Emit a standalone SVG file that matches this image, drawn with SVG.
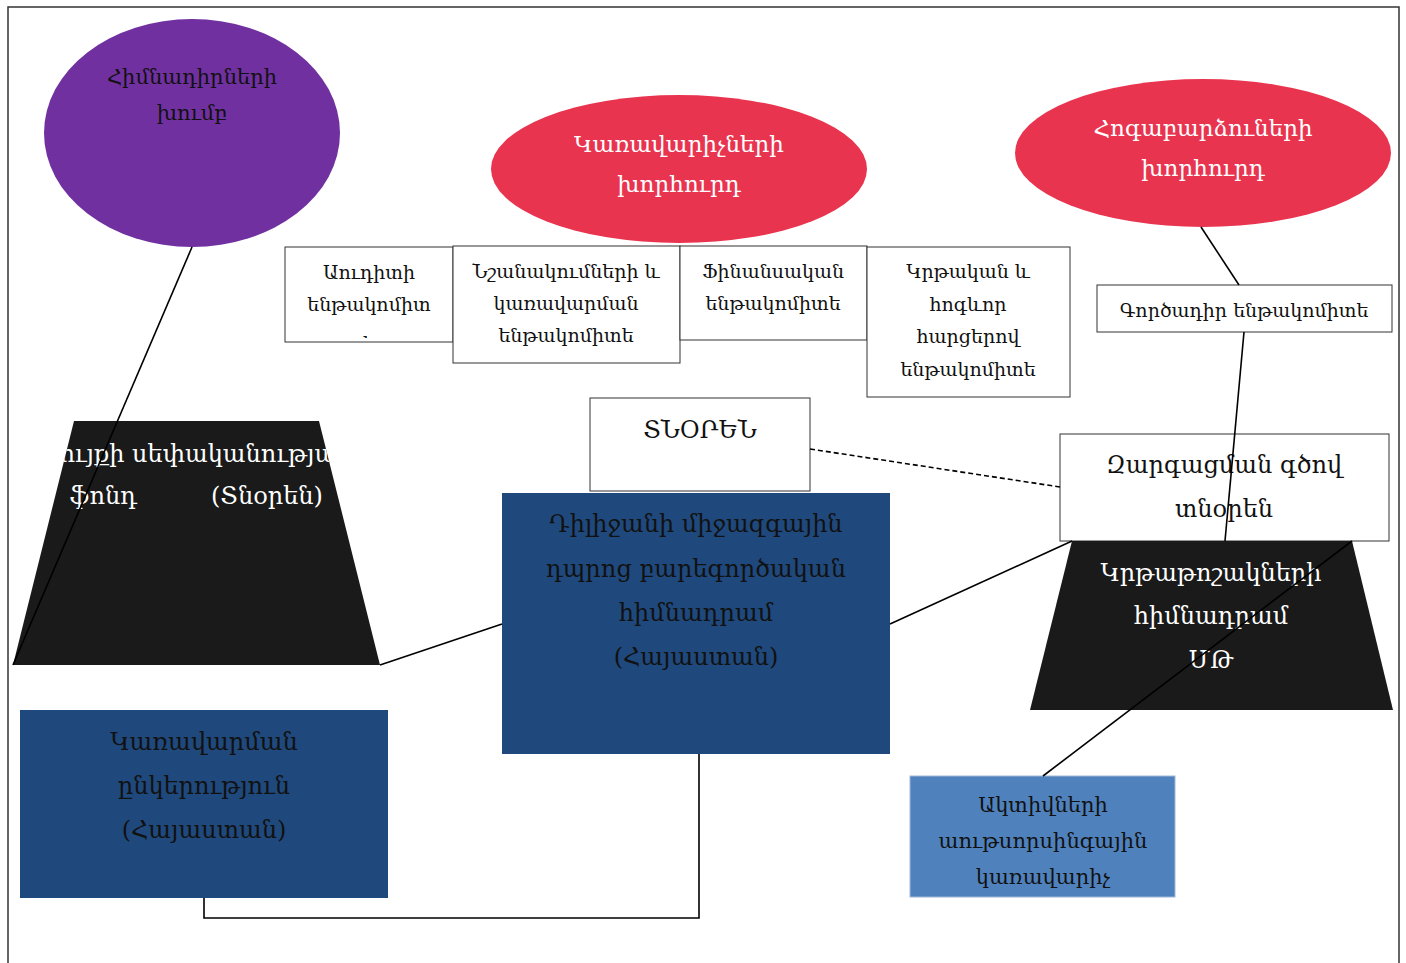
<svg xmlns="http://www.w3.org/2000/svg" width="1406" height="963" viewBox="0 0 1406 963">
<style>
text{font-family:"DejaVu Serif","Liberation Serif",serif;text-anchor:middle}
.box{fill:#fff;stroke:#333;stroke-width:1}
.s{font-size:19px;fill:#111}
.m{font-size:24px;fill:#111}
.w{fill:#fff}
.k{fill:#111}
.conn{stroke:#000;stroke-width:1.6;fill:none}
</style>
<defs>
<clipPath id="clipL"><polygon points="74,421 319,421 380,665 13,665"/></clipPath>
<clipPath id="clipA"><rect x="285" y="247" width="168" height="91"/></clipPath>
</defs>
<rect x="8" y="7" width="1391" height="970" fill="#fff" stroke="#333" stroke-width="1.5"/>

<g id="founders">
<ellipse cx="192" cy="133" rx="148" ry="114" fill="#7030A0"/>
<text class="k" x="192" y="84" font-size="21">Հիմնադիրների</text>
<text class="k" x="192" y="120" font-size="21">խումբ</text>
</g>

<g id="board-managers">
<ellipse cx="679" cy="169" rx="188" ry="74" fill="#E9344F"/>
<text class="w" x="679" y="152" font-size="23">Կառավարիչների</text>
<text class="w" x="679" y="192" font-size="23">խորհուրդ</text>
</g>

<g id="board-trustees">
<ellipse cx="1203" cy="153" rx="188" ry="74" fill="#E9344F"/>
<text class="w" x="1203" y="136" font-size="23">Հոգաբարձուների</text>
<text class="w" x="1203" y="176" font-size="23">խորհուրդ</text>
</g>

<g id="audit">
<rect class="box" x="285" y="247" width="168" height="95"/>
<text class="s" x="369" y="279">Աուդիտի</text>
<text class="s" x="369" y="311">ենթակոմիտ</text>
<text class="s" x="369" y="350" clip-path="url(#clipA)">ե</text>
</g>

<g id="nominations">
<rect class="box" x="453" y="246" width="227" height="117"/>
<text class="s" x="566" y="278">Նշանակումների և</text>
<text class="s" x="566" y="310">կառավարման</text>
<text class="s" x="566" y="342">ենթակոմիտե</text>
</g>

<g id="finance">
<rect class="box" x="680" y="246" width="187" height="94"/>
<text class="s" x="773" y="278">Ֆինանսական</text>
<text class="s" x="773" y="310">ենթակոմիտե</text>
</g>

<g id="education">
<rect class="box" x="867" y="247" width="203" height="150"/>
<text class="s" x="968" y="278">Կրթական և</text>
<text class="s" x="968" y="311">հոգևոր</text>
<text class="s" x="968" y="343">հարցերով</text>
<text class="s" x="968" y="376">ենթակոմիտե</text>
</g>

<g id="executive">
<rect class="box" x="1097" y="285" width="295" height="47"/>
<text class="s" x="1244" y="317">Գործադիր ենթակոմիտե</text>
</g>

<g id="director">
<rect class="box" x="590" y="398" width="220" height="93"/>
<text class="m" x="700" y="438">ՏՆՕՐԵՆ</text>
</g>

<g id="dev-director">
<rect class="box" x="1060" y="434" width="329" height="107"/>
<text class="m" x="1224" y="473">Զարգացման գծով</text>
<text class="m" x="1224" y="517">տնօրեն</text>
</g>

<g id="property-fund">
<polygon points="74,421 319,421 380,665 13,665" fill="#1A1A1A"/>
<g clip-path="url(#clipL)">
<text class="w" x="196" y="462" font-size="24">Գույքի սեփականության</text>
<text class="w" font-size="24" style="text-anchor:start"><tspan x="70" y="504">ֆոնդ</tspan><tspan x="211" y="504">(Տնօրեն)</tspan></text>
</g>
</g>

<g id="dilijan">
<rect x="502" y="493" width="388" height="261" fill="#1F497D"/>
<text class="k" x="696" y="532" font-size="24">Դիլիջանի միջազգային</text>
<text class="k" x="696" y="577" font-size="24">դպրոց բարեգործական</text>
<text class="k" x="696" y="621" font-size="24">հիմնադրամ</text>
<text class="k" x="696" y="665" font-size="24">(Հայաստան)</text>
</g>

<g id="scholarship">
<polygon points="1072,541 1352,541 1393,710 1030,710" fill="#1A1A1A"/>
<text class="w" x="1211" y="581" font-size="24">Կրթաթոշակների</text>
<text class="w" x="1211" y="624" font-size="24">հիմնադրամ</text>
<text class="w" x="1211" y="668" font-size="24">ՄԹ</text>
</g>

<g id="management-company">
<rect x="20" y="710" width="368" height="188" fill="#1F497D"/>
<text class="k" x="204" y="750" font-size="24">Կառավարման</text>
<text class="k" x="204" y="794" font-size="24">ընկերություն</text>
<text class="k" x="204" y="838" font-size="24">(Հայաստան)</text>
</g>

<g id="asset-manager">
<rect x="910" y="776" width="265" height="121" fill="#4F81BD" stroke="#9fb6d8" stroke-width="1"/>
<text class="k" x="1043" y="812" font-size="21">Ակտիվների</text>
<text class="k" x="1043" y="848" font-size="21">աութսորսինգային</text>
<text class="k" x="1043" y="884" font-size="21">կառավարիչ</text>
</g>

<g id="connectors">
<line class="conn" x1="192" y1="247" x2="13" y2="665"/>
<line class="conn" x1="380" y1="665" x2="502" y2="624"/>
<line class="conn" x1="890" y1="624" x2="1072" y2="541"/>
<line class="conn" x1="810" y1="449" x2="1060" y2="487" stroke-dasharray="5,3"/>
<line class="conn" x1="1201" y1="227" x2="1239" y2="285"/>
<line class="conn" x1="1244" y1="332" x2="1225" y2="541"/>
<line class="conn" x1="1352" y1="541" x2="1043" y2="776"/>
<polyline class="conn" points="699,754 699,918 204,918 204,898"/>
</g>
</svg>
